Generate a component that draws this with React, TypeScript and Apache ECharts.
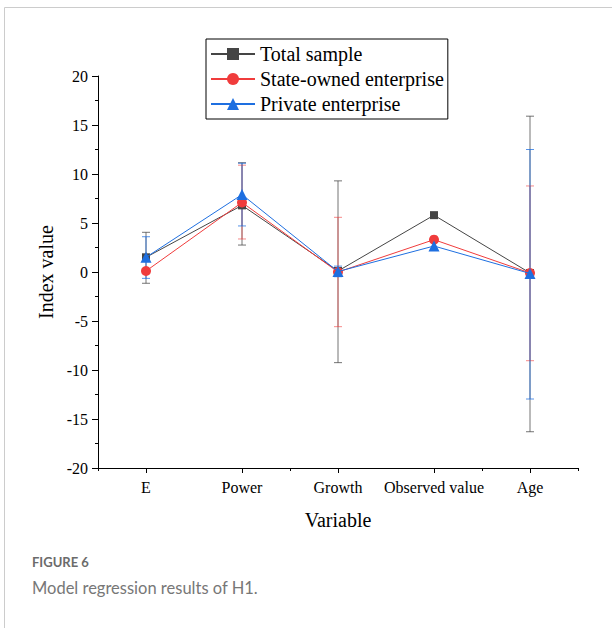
import React, { useEffect, useRef } from "react";
import * as echarts from "echarts";

const categories = ["E", "Power", "Growth", "Observed value", "Age"];
const seriesNames = ["Total sample", "State-owned enterprise", "Private enterprise"];

const totalValues = [1.5, 6.8, 0.1, 5.8, -0.1];
const stateValues = [0.1, 7.1, 0.0, 3.3, -0.1];
const privateValues = [1.5, 7.9, 0.05, 2.65, -0.15];

// [categoryIndex, low, high]
const totalErrors = [
  [0, -1.15, 4.05],
  [1, 2.75, 11.15],
  [2, -9.25, 9.3],
  [4, -16.3, 15.9],
];
const stateErrors = [
  [1, 3.37, 10.9],
  [2, -5.58, 5.58],
  [4, -9.05, 8.78],
];
const privateErrors = [
  [0, -0.65, 3.6],
  [1, 4.7, 11.1],
  [2, -0.48, 0.6],
  [4, -12.96, 12.5],
];

const yTicks = [-20, -15, -10, -5, 0, 5, 10, 15, 20];

const SERIF = "'Liberation Serif', 'Times New Roman', serif";

function errorSeries(name: string, data: number[][], color: string, z: number) {
  return {
    type: "custom",
    name: name + " err",
    xAxisIndex: 0,
    yAxisIndex: 0,
    z,
    silent: true,
    encode: { x: 0, y: [1, 2] },
    data,
    renderItem: (params: any, api: any) => {
      const x = api.value(0);
      const lo = api.coord([x, api.value(1)]);
      const hi = api.coord([x, api.value(2)]);
      const half = 4;
      const style = { stroke: color, lineWidth: 1 };
      return {
        type: "group",
        children: [
          { type: "line", shape: { x1: lo[0], y1: lo[1], x2: hi[0], y2: hi[1] }, style },
          { type: "line", shape: { x1: hi[0] - half, y1: hi[1], x2: hi[0] + half, y2: hi[1] }, style },
          { type: "line", shape: { x1: lo[0] - half, y1: lo[1], x2: lo[0] + half, y2: lo[1] }, style },
        ],
      };
    },
  };
}

export default function App() {
  const ref = useRef<HTMLDivElement>(null);
  useEffect(() => {
    document.body.style.margin = "0";
    const chart = echarts.init(ref.current!, null, { renderer: "svg" });
    const black = "#454545";
    const red = "#f03c3c";
    const blue = "#1e6fe0";
    chart.setOption({
      animation: false,
      backgroundColor: "#ffffff",
      grid: { left: 98, top: 76, right: 34, bottom: 160, containLabel: false },
      legend: {
        orient: "vertical",
        left: 206,
        top: 39,
        padding: [4, 4, 4, 4],
        itemGap: 3,
        itemWidth: 44,
        itemHeight: 15,
        borderColor: "#000",
        borderWidth: 1,
        borderRadius: 0,
        data: seriesNames,
        textStyle: { fontFamily: SERIF, fontSize: 20, color: "#000", lineHeight: 22 },
      },
      xAxis: [
        {
          type: "category",
          data: categories,
          boundaryGap: true,
          axisLine: { show: true, onZero: false, lineStyle: { color: "#000", width: 1 } },
          axisTick: { show: true, alignWithLabel: true, length: 5, lineStyle: { color: "#000" } },
          axisLabel: { fontFamily: SERIF, fontSize: 16, color: "#000", margin: 11, interval: 0 },
          splitLine: { show: false },
          name: "Variable",
          nameLocation: "middle",
          nameGap: 42,
          nameTextStyle: { fontFamily: SERIF, fontSize: 20, color: "#000" },
        },
        {
          type: "category",
          data: categories,
          boundaryGap: true,
          position: "bottom",
          axisLine: { show: false, onZero: false },
          axisTick: { show: true, length: 3, lineStyle: { color: "#000" } },
          axisLabel: { show: false },
          splitLine: { show: false },
        },
      ],
      yAxis: {
        type: "value",
        min: yTicks[0],
        max: yTicks[yTicks.length - 1],
        interval: 5,
        axisLine: { show: true, lineStyle: { color: "#000", width: 1 } },
        axisTick: { show: true, length: 6, lineStyle: { color: "#000" } },
        minorTick: { show: true, splitNumber: 2, length: 3, lineStyle: { color: "#000" } },
        axisLabel: { fontFamily: SERIF, fontSize: 16, color: "#000", margin: 10 },
        splitLine: { show: false },
        name: "Index value",
        nameLocation: "middle",
        nameGap: 42,
        nameTextStyle: { fontFamily: SERIF, fontSize: 20, color: "#000" },
      },
      graphic: [
        { type: "line", shape: { x1: 4.5, y1: 7.5, x2: 612, y2: 7.5 }, style: { stroke: "#cccccc", lineWidth: 1 } },
        { type: "line", shape: { x1: 4.5, y1: 7.5, x2: 4.5, y2: 628 }, style: { stroke: "#cccccc", lineWidth: 1 } },
        {
          type: "text",
          left: 32,
          top: 555,
          style: { text: "FIGURE 6", fontFamily: "Lato, 'Open Sans', sans-serif", fontSize: 13, fontWeight: "bold", fill: "#6b6b6b" },
        },
        {
          type: "text",
          left: 32,
          top: 579,
          style: { text: "Model regression results of H1.", fontFamily: "Lato, 'Open Sans', sans-serif", fontSize: 16.5, fill: "#777777" },
        },
      ],
      series: [
        errorSeries("Total sample", totalErrors, "rgba(70,70,70,0.75)", 3),
        errorSeries("State-owned enterprise", stateErrors, "rgba(240,60,60,0.6)", 3),
        errorSeries("Private enterprise", privateErrors, "rgba(30,111,224,0.75)", 3),
        {
          type: "line",
          name: seriesNames[0],
          data: totalValues,
          symbol: "rect",
          symbolSize: 8,
          z: 4,
          itemStyle: { color: black },
          lineStyle: { color: black, width: 1 },
        },
        {
          type: "line",
          name: seriesNames[1],
          data: stateValues,
          symbol: "circle",
          symbolSize: 10,
          z: 5,
          itemStyle: { color: red },
          lineStyle: { color: red, width: 1 },
        },
        {
          type: "line",
          name: seriesNames[2],
          data: privateValues,
          symbol: "triangle",
          symbolSize: 11,
          z: 6,
          itemStyle: { color: blue },
          lineStyle: { color: blue, width: 1 },
        },
      ],
    });
    return () => chart.dispose();
  }, []);
  return <div ref={ref} style={{ width: 612, height: 628, position: "absolute", left: 0, top: 0 }} />;
}
